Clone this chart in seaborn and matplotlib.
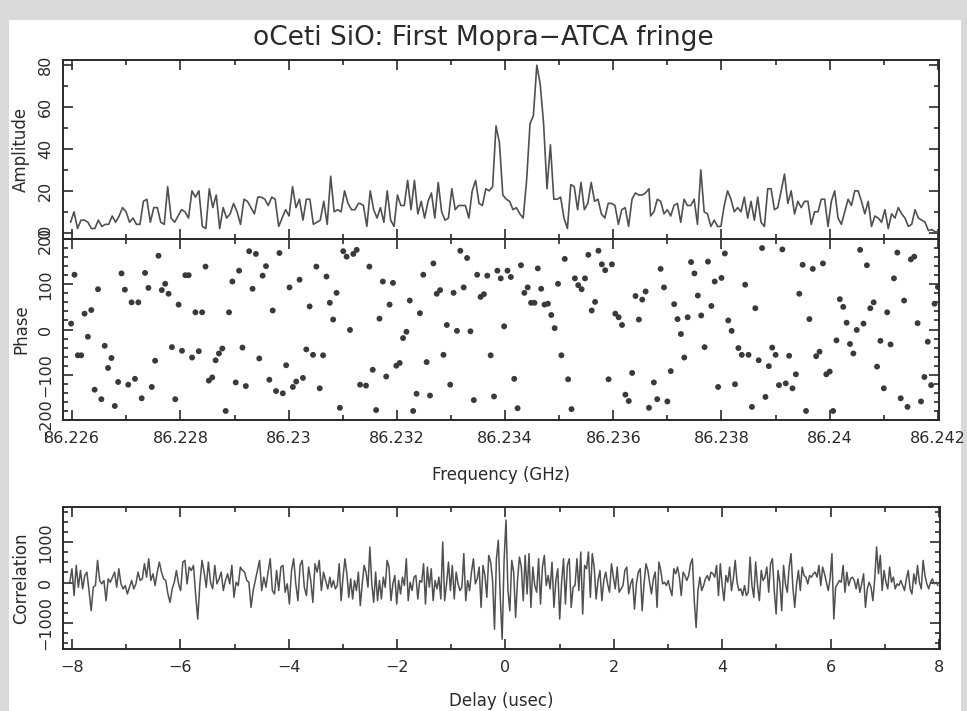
import numpy as np
import matplotlib
matplotlib.use("Agg")
import matplotlib.pyplot as plt
from matplotlib.patches import Rectangle
from matplotlib.ticker import MultipleLocator, FuncFormatter
import seaborn as sns

## Data, in three stretches of the band each
# (start, end) frequency of each stretch in GHz
amp_ranges = [(86.22597, 86.23129), (86.23132, 86.23666), (86.23669, 86.24201)]
amp_a = [
    5, 10, 2, 6, 6, 5, 2, 2, 6, 3, 4, 4, 8, 5, 8, 12, 10, 5, 7, 4, 4, 15, 16, 5, 12, 12, 5, 4,
    22, 7, 5, 8, 11, 10, 7, 20, 17, 20, 3, 2, 21, 12, 18, 2, 12, 7, 9, 14, 10, 4, 16, 15, 12, 9,
    17, 17, 16, 13, 17, 16, 3, 7, 11, 8, 22, 12, 16, 6, 16, 16, 4, 5, 6, 15, 4, 27, 10, 11, 10,
    20, 14, 11, 11, 14,
]
amp_b = [
    14, 13, 3, 20, 11, 7, 12, 5, 20, 6, 3, 18, 13, 13, 25, 11, 25, 9, 15, 7, 15, 19, 7, 24, 10,
    6, 7, 21, 11, 13, 13, 13, 7, 20, 25, 14, 13, 21, 20, 22, 51, 43, 18, 16, 15, 11, 12, 9, 7,
    25, 52, 56, 80, 71, 52, 21, 42, 16, 16, 17, 7, 2, 23, 22, 11, 24, 11, 14, 24, 15, 16, 9, 7,
    14, 14, 13, 4, 11, 12, 3, 16, 19, 18, 18, 19, 21,
]
amp_c = [
    8, 10, 16, 15, 9, 11, 8, 13, 14, 5, 16, 13, 13, 16, 4, 30, 10, 9, 3, 6, 3, 3, 13, 20, 16,
    10, 12, 10, 17, 7, 15, 6, 17, 5, 3, 21, 21, 11, 12, 20, 28, 14, 20, 9, 15, 12, 15, 15, 4,
    10, 10, 16, 16, 3, 15, 20, 7, 4, 10, 16, 13, 20, 20, 15, 9, 15, 3, 8, 7, 5, 11, 2, 9, 7, 12,
    9, 7, 3, 4, 11, 7, 6, 5, 1, 1.5, 0.5, 0.3,
]

ph_ranges = [(86.22598, 86.23132), (86.23143, 86.23666), (86.23675, 86.24200)]
phase_a = [
    13, 121, -57, -57, 35, -16, 43, -133, 89, -154, -36, -85, -63, -169, -116, 124, 88, -122,
    60, -109, 60, -152, 125, 92, -127, -69, 163, 87, 101, 79, -39, -154, 55, -47, 120, 120,
    -62, 38, -48, 38, 139, -113, -106, -68, -53, -42, -180, 38, 106, -117, 130, -40, -125,
    173, 90, 167, -64, 119, 140, -111, 42, -136, 169, -141, -79, 93, -127, -115, 110, -107,
    -44, 51, -56, 139, -130, -57, 117, 59, 22, 81, -173, 173, 161, -1, 167, 176, -122,
]
phase_b = [
    -124, 139, -89, -178, 24, 106, -104, 55, 103, -80, -74, -19, -5, 64, -180, -142, 36, 121,
    -72, -146, 146, 79, 87, -56, 10, -122, 81, -3, 174, 93, 158, -4, -156, 121, 72, 78, 119,
    -57, -148, 130, 113, 7, 130, 116, -109, -174, 142, 81, 93, 59, 59, 135, 90, 55, 57, 32, 3,
    101, -57, 156, -110, -176, 113, 98, 89, 113, 165, 42, 61, 174, 144, 131, -110, 144, 35, 27,
    10, -144, -158, -96, 74, 22, 66, 84, -173,
]
phase_c = [
    -117, -154, 134, 93, -159, -92, 56, 23, -10, -62, 27, 149, 124, 75, 31, -39, 150, 52, 106,
    -127, 114, 168, 20, -3, -121, -41, -56, 99, -56, -171, 47, -68, 180, -149, -81, -40, -56,
    -123, 177, -119, -58, -130, -99, 79, 143, -180, 23, 134, -59, -49, 146, -99, -93, -180,
    -24, 67, 50, 15, -32, -53, -1, 176, 13, 142, 47, 60, -82, -25, -130, 38, -33, 113, 170,
    -152, 64, -171, 155, 161, 14, -159, -105, -27, -123, 57, 94,
]

# (start, end) delay of each stretch in usec
corr_ranges = [(-8.04, -3.24), (-3.21, 2.664), (2.695, 7.983)]
corr_a = [
    8, 342, -325, 425, -117, 300, -158, 175, 258, -200, -700, -117, -75, 550, 50, -33, 50,
    -450, 92, 8, 133, 258, -117, 342, -33, -158, -75, -283, -117, 50, -158, -33, 258, 50, 92,
    467, 133, 592, 50, 217, -75, 258, 508, 258, 92, 50, -283, -492, -158, 8, 300, -33, -200,
    508, 550, -33, 383, 300, 425, -283, -908, -33, 550, 258, -117, 508, 8, -158, 425, -33, 92,
    258, -200, 50, 217, -33, 425, -367, 8, -75, 383, 300, 258, 50, 8, -617, -200, 50, 300, 550,
    -200, 133, -117, 258, 592, -200, -283, 300, -200, 383, 425, -242, -33, -533, 300, 592, -33,
    -450, 425, 550, -117, -325, 383, 50, -492, 467, 258, 550, -200, 258, 50, -158, 133,
]
corr_b = [
    -117, 50, -158, -75, 467, -450, 133, 592, 217, -367, 92, -408, 50, -200, 258, -575, -33,
    425, 258, -117, 883, -33, -492, 258, -450, 50, -408, 133, -117, 550, 383, -450, -33, 175,
    -533, 50, -283, 133, -75, 592, -450, 8, -200, 133, 175, -408, 50, 8, 467, -533, 383, -117,
    342, -450, 50, -158, 133, -408, 1008, -450, -33, 508, -200, 425, -408, 258, -33, -200,
    -117, 717, -450, 50, -200, 258, 592, -33, 92, 383, -617, 425, 175, -367, 675, 508, 50,
    -1158, 592, 1050, -367, -1408, 550, 1550, -200, -700, 550, 258, -867, 50, 633, 383, -450,
    675, -283, 717, -617, 383, -75, -242, 592, -533, 383, 675, -75, 175, -158, 508, -617, 50,
    342, -908, 8, 592, -533, 425, 592, -617, -117, -75, 592, -200, 758, -783, 425, 342, 758,
    -367, 717, 383, -408, 50, 300, -450, 50, 258, -33, -242, 467, 133, -158, 383, -242, -158,
    -75, 300, 383, -283, -33, 92, -658, -33, 258, 342, -700, -33, 467, 300, -33,
]
corr_c = [
    -283, 92, 258, -617, 508, 300, -33, 8, -75, 50, -158, -325, 342, 217, 383, 133, -325, 258,
    175, 50, 175, 467, 592, -450, -1117, -200, 133, -200, -75, 92, 175, 50, 258, 217, 133, 425,
    -325, 467, -75, -450, 175, 8, 383, -200, 92, 550, 8, -200, -158, -325, -75, -325, -242,
    633, -75, -367, 508, -75, -450, 300, 50, 133, 383, -242, 467, 592, -200, -783, 300, 8,
    -700, 425, -33, -242, 383, 717, -117, -617, -33, 300, -200, 383, 175, 133, -33, 175, 133,
    217, 258, 133, 425, -75, 383, 217, 8, -200, 92, 717, -908, -117, -33, 50, 8, 425, -242,
    258, -75, 92, 133, 50, -158, 92, -242, -33, 217, -617, -158, 8, -117, -450, 92, 883, 217,
    675, -200, 300, 8, -158, 383, 8, 133, -158, -33, -75, 50, -75, -200, 92, 300, -158, -283,
    217, -33, 425, 8, -158, 550, 175, -33, -158, 8, 92, -33, 8, -75,
]


def stitch(ranges, parts):
    xs = np.concatenate([np.linspace(a, b, len(p)) for (a, b), p in zip(ranges, parts)])
    ys = np.concatenate([np.asarray(p, dtype=float) for p in parts])
    return xs, ys


freq, amplitude = stitch(amp_ranges, [amp_a, amp_b, amp_c])
freq_ph, phase = stitch(ph_ranges, [phase_a, phase_b, phase_c])
delay, correlation = stitch(corr_ranges, [corr_a, corr_b, corr_c])

## Style
sns.set_style("ticks")
plt.rcParams["font.family"] = ["DejaVu Sans"]
ink = "#2a2a2a"
line_col = "#505050"

W, H = 967, 711
fig = plt.figure(figsize=(W / 100, H / 100), dpi=100)
fig.patch.set_facecolor("#d9d9d9")
fig.patches.append(Rectangle((9 / W, 0), (961 - 9) / W, (H - 20) / H,
                             transform=fig.transFigure, facecolor="white",
                             edgecolor="none", zorder=-10))


def box(x0, y0, x1, y1):
    # pixel box (top-left origin) -> figure fraction
    return [x0 / W, 1 - y1 / H, (x1 - x0) / W, (y1 - y0) / H]


def style_axes(ax, xmaj, xmin, ymaj, ymin):
    ax.set_facecolor("none")
    for s in ax.spines.values():
        s.set_visible(True)
        s.set_color(ink)
        s.set_linewidth(1.4)
    ax.xaxis.set_major_locator(MultipleLocator(xmaj))
    ax.xaxis.set_minor_locator(MultipleLocator(xmin))
    ax.yaxis.set_major_locator(MultipleLocator(ymaj))
    ax.yaxis.set_minor_locator(MultipleLocator(ymin))
    ax.tick_params(which="both", direction="in", top=True, right=True,
                   colors=ink, labelsize=11.5, width=1.2)
    ax.tick_params(which="major", length=7)
    ax.tick_params(which="minor", length=3.5)
    ax.tick_params(axis="y", labelrotation=90, pad=7)
    ax.tick_params(axis="x", pad=8)


fmt_g = FuncFormatter(lambda v, p: f"{v:.6g}".replace("-", "\u2212"))
xlim_f = (86.22583, 86.24202)

# Amplitude
ax1 = fig.add_axes(box(63, 60, 939, 239))
sns.lineplot(x=freq, y=amplitude, ax=ax1, color=line_col, linewidth=1.2, sort=False)
ax1.set_xlim(xlim_f)
ax1.set_ylim(-3, 82.5)
style_axes(ax1, 0.002, 0.001, 20, 10)
ax1.tick_params(axis="x", labelbottom=False)
ax1.set_ylabel("Amplitude", color=ink, fontsize=12, labelpad=6)

# Phase
ax2 = fig.add_axes(box(63, 239, 939, 420))
sns.scatterplot(x=freq_ph, y=phase, ax=ax2, color="#3a3a3a", s=18,
                edgecolor="none", linewidth=0)
ax2.set_xlim(xlim_f)
ax2.set_ylim(-200, 200)
style_axes(ax2, 0.002, 0.001, 100, 20)
ax2.xaxis.set_major_formatter(fmt_g)
ax2.set_ylabel("Phase", color=ink, fontsize=12, labelpad=6)
ax2.set_xlabel("Frequency (GHz)", color=ink, fontsize=12, labelpad=14)

# Correlation
ax3 = fig.add_axes(box(63, 507, 940, 649))
sns.lineplot(x=delay, y=correlation, ax=ax3, color=line_col, linewidth=1.1, sort=False)
ax3.set_xlim(-8.166, 8.02)
ax3.set_ylim(-1650, 1875)
style_axes(ax3, 2, 1, 1000, 250)
ax3.set_ylabel("Correlation", color=ink, fontsize=12, labelpad=6)
ax3.set_xlabel("Delay (usec)", color=ink, fontsize=12, labelpad=12)

for ax in (ax1, ax2, ax3):
    for lab in ax.get_yticklabels():
        lab.set_va("center")

fig.text(0.5, 1 - 38 / H, "oCeti SiO: First Mopra\u2212ATCA fringe", ha="center",
         va="center", fontsize=19, color=ink)

fig.savefig("out.png", dpi=100, facecolor=fig.get_facecolor())
